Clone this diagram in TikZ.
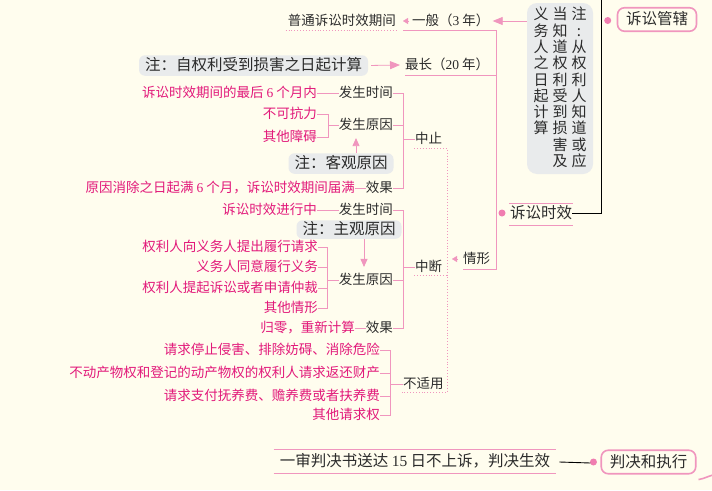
\documentclass[tikz,border=0pt]{standalone}
\usepackage{fontspec}
\setmainfont{Noto Sans CJK SC}
\newfontfamily\dgfont{Liberation Serif}
\newcommand{\dg}[1]{{\dgfont #1}}
\usetikzlibrary{arrows.meta,calc}

\definecolor{paper}{RGB}{255,253,238}
\definecolor{pinkline}{RGB}{240,150,190}
\definecolor{magtext}{RGB}{226,25,122}
\definecolor{darktext}{RGB}{43,43,43}
\definecolor{notegray}{RGB}{233,235,236}
\definecolor{pinkdot}{RGB}{240,125,176}

\tikzset{
  lbl/.style={inner sep=0pt, text=darktext, font=\fontsize{13.5}{15}\selectfont, text height=11pt, text depth=2pt},
  redlbl/.style={lbl, text=magtext},
  biglbl/.style={lbl, font=\fontsize{15.5}{17}\selectfont, text height=12.5pt, text depth=2pt},
  notebox/.style={fill=notegray, rounded corners=6pt, inner xsep=6pt, inner ysep=3pt, text=darktext, font=\fontsize{15.5}{17}\selectfont, text height=12.5pt, text depth=2pt},
  vcol/.style={align=center, inner sep=0pt, text=darktext, font=\fontsize{15}{16.3}\selectfont},
  topbox/.style={draw=pinkline, line width=1.6pt, rounded corners=7pt, fill=paper, text=darktext, font=\fontsize{15.5}{17}\selectfont, inner xsep=8.5pt, inner ysep=4.5pt, text height=12.5pt, text depth=2pt},
  link/.style={draw=pinkline, line width=0.8pt},
  dotlink/.style={draw=pinkline, line width=0.9pt, dotted},
  bigtip/.style={link, -{Triangle[length=10pt,width=8pt]}},
  midtip/.style={link, -{Triangle[length=8pt,width=7pt]}},
  smalltip/.style={draw=pinkline, line width=0.2pt, -{Triangle[length=5pt,width=6pt]}},
  blackline/.style={draw=black, line width=0.9pt},
}

\begin{document}
\begin{tikzpicture}[x=1pt, y=-1pt]
\useasboundingbox (0,0) rectangle (712,490);
\fill[paper] (0,0) rectangle (712,490);

% upper nodes
\node[topbox] (sg) at (657,19.5) {诉讼管辖};
\fill[pinkdot] ($(sg.west)+(-9,1)$) circle[radius=3.5pt];
\node[fill=notegray, rounded corners=10pt, minimum width=66pt, minimum height=171pt, inner sep=0pt] (vn) at (560,88.5) {};
\node[vcol, anchor=north] (vc1) at (579,7) {注\\:\\从\\权\\利\\人\\知\\道\\或\\应};
\node[vcol, anchor=north] (vc2) at (560,7) {当\\知\\道\\权\\利\\受\\到\\损\\害\\及};
\node[vcol, anchor=north] (vc3) at (541,7) {义\\务\\人\\之\\日\\起\\计\\算};

\node[lbl, anchor=east] (ptsx) at (396,21) {普通诉讼时效期间};
\node[lbl, anchor=west] (yb) at (412,21) {一般（\dg{3} 年）};
\node[lbl, anchor=west] (zc) at (405,65) {最长（\dg{20} 年）};
\node[notebox] (n1) at (253.5,65.5) {注：自权利受到损害之日起计算};
\node[lbl, anchor=west] (qx) at (463,259) {情形};
\node[biglbl, anchor=west] (ss) at (510,213) {诉讼时效};

% trunk of 诉讼时效
\coordinate (trunk) at (496,0);
\coordinate (topend) at (601,0);
\draw[link] ($(yb.west)+(-9,9)$) -| ($(trunk |- qx.west)+(0,10)$) -- ($(qx.west)+(0,10)$);
\draw[link] ($(zc.west)+(0,10)$) -- ($(trunk |- zc.west)+(0,10)$);
\draw[bigtip] (vn.west |- yb.east) -- ($(yb.east)+(3,0)$);
\draw[bigtip, shorten <=3pt] (n1.east) -- ($(zc.west)+(-5,0)$);
\draw[smalltip] ($(yb.west)+(-3,0)$) -- ($(yb.west)+(-9,0)$);
\draw[dotlink] ($(ptsx.west)+(-2,9)$) -- ($(ptsx.east)+(2,9)$);
\fill[pinkdot] ($(ss.west)+(-8,0)$) circle[radius=3.5pt];
\draw[link] ($(ss.west)+(-1,-10)$) -- ($(ss.east)+(1,-10)$);
\draw[link] ($(ss.west)+(-1,12)$) -- ($(ss.east)+(1,12)$);
\draw[blackline] (ss.east) -| (topend);

% 中止
\node[lbl, anchor=west] (zz) at (415,139) {中止};
\node[lbl, anchor=east] (zzt) at (393,93) {发生时间};
\node[redlbl, anchor=east] (zzta) at (317,93) {诉讼时效期间的最后 \dg{6} 个月内};
\node[lbl, anchor=east] (zzr) at (393,125) {发生原因};
\node[redlbl, anchor=east] (zzr1) at (317,114) {不可抗力};
\node[redlbl, anchor=east] (zzr2) at (317,137) {其他障碍};
\node[notebox] (zzn) at (341,163.5) {注：客观原因};
\node[lbl, anchor=east] (zzx) at (393,188) {效果};
\node[redlbl, anchor=east] (zzxa) at (355,188) {原因消除之日起满 \dg{6} 个月，诉讼时效期间届满};
\foreach \c in {zzt,zzr,zzx}
  \draw[link] (\c.east) -| ($(zz.west)+(-12,0)$) -- (zz.west);
\foreach \c in {zzr1,zzr2}
  \draw[link] (\c.east) -| ($(zzr.west)+(-10,0)$) -- (zzr.west);
\draw[link] (zzta.east) -- (zzt.west);
\draw[link] (zzxa.east) -- (zzx.west);
\draw[midtip] ($(zzn.north)+(15,0)$) -- +(0,-15);

% 中断
\node[lbl, anchor=west] (zd) at (415,267) {中断};
\node[lbl, anchor=east] (zdt) at (393,210) {发生时间};
\node[redlbl, anchor=east] (zdta) at (317,210) {诉讼时效进行中};
\node[notebox, inner ysep=2pt] (zdn) at (349,229.5) {注：主观原因};
\node[lbl, anchor=east] (zdr) at (393,280) {发生原因};
\node[redlbl, anchor=east] (zdr1) at (318,247) {权利人向义务人提出履行请求};
\node[redlbl, anchor=east] (zdr2) at (318,267) {义务人同意履行义务};
\node[redlbl, anchor=east] (zdr3) at (318,288) {权利人提起诉讼或者申请仲裁};
\node[redlbl, anchor=east] (zdr4) at (318,308) {其他情形};
\node[lbl, anchor=east] (zdx) at (393,328) {效果};
\node[redlbl, anchor=east] (zdxa) at (355,328) {归零，重新计算};
\foreach \c in {zdt,zdr,zdx}
  \draw[link] (\c.east) -| ($(zd.west)+(-12,0)$) -- (zd.west);
\foreach \i in {1,...,4}
  \draw[link] (zdr\i.east) -| ($(zdr.west)+(-11,0)$) -- (zdr.west);
\draw[link] (zdta.east) -- (zdt.west);
\draw[link] (zdxa.east) -- (zdx.west);
\draw[midtip] ($(zdn.south)+(15,0)$) -- +(0,28);

% 不适用
\node[lbl, anchor=west] (bs) at (403,384) {不适用};
\node[redlbl, anchor=east] (bs1) at (380,350) {请求停止侵害、排除妨碍、消除危险};
\node[redlbl, anchor=east] (bs2) at (380,373) {不动产物权和登记的动产物权的权利人请求返还财产};
\node[redlbl, anchor=east] (bs3) at (380,396) {请求支付抚养费、赡养费或者扶养费};
\node[redlbl, anchor=east] (bs4) at (380,415) {其他请求权};
\foreach \i in {1,...,4}
  \draw[link] (bs\i.east) -| ($(bs.west)+(-13,0)$) -- (bs.west);

% dotted links of 情形
\coordinate (dtrunk) at (447,0);
\draw[dotlink] ($(zz.west)+(-1,9)$) -- ($(dtrunk |- zz.west)+(0,9)$) -- ($(dtrunk |- bs.west)+(0,8)$) -- ($(bs.west)+(-1,8)$);
\draw[dotlink] ($(zd.west)+(-1,8)$) -- ($(dtrunk |- zd.west)+(0,8)$);
\draw[smalltip] ($(qx.west)+(-5,0)$) -- ($(qx.west)+(-11,0)$);

% 判决和执行
\node[topbox] (pj) at (648.5,462) {判决和执行};
\fill[pinkdot] ($(pj.west)+(-7,0)$) circle[radius=3.5pt];
\node[biglbl] (ys) at (415,461) {一审判决书送达 \dg{15} 日不上诉，判决生效};
\draw[link] ($(ys.west)+(-6,-12)$) -- ($(ys.east)+(6,-12)$);
\draw[link] ($(ys.west)+(-6,12)$) -- ($(ys.east)+(6,12)$);
\draw[blackline] ($(ys.east)+(9,1)$) -- ($(pj.west)+(-10,1)$);
\coordinate (offright) at (713,475);
\draw[draw=pinkline, line width=1.6pt] ($(pj.south east)+(2,5)$) to[out=10,in=195] (offright);
\end{tikzpicture}
\end{document}
